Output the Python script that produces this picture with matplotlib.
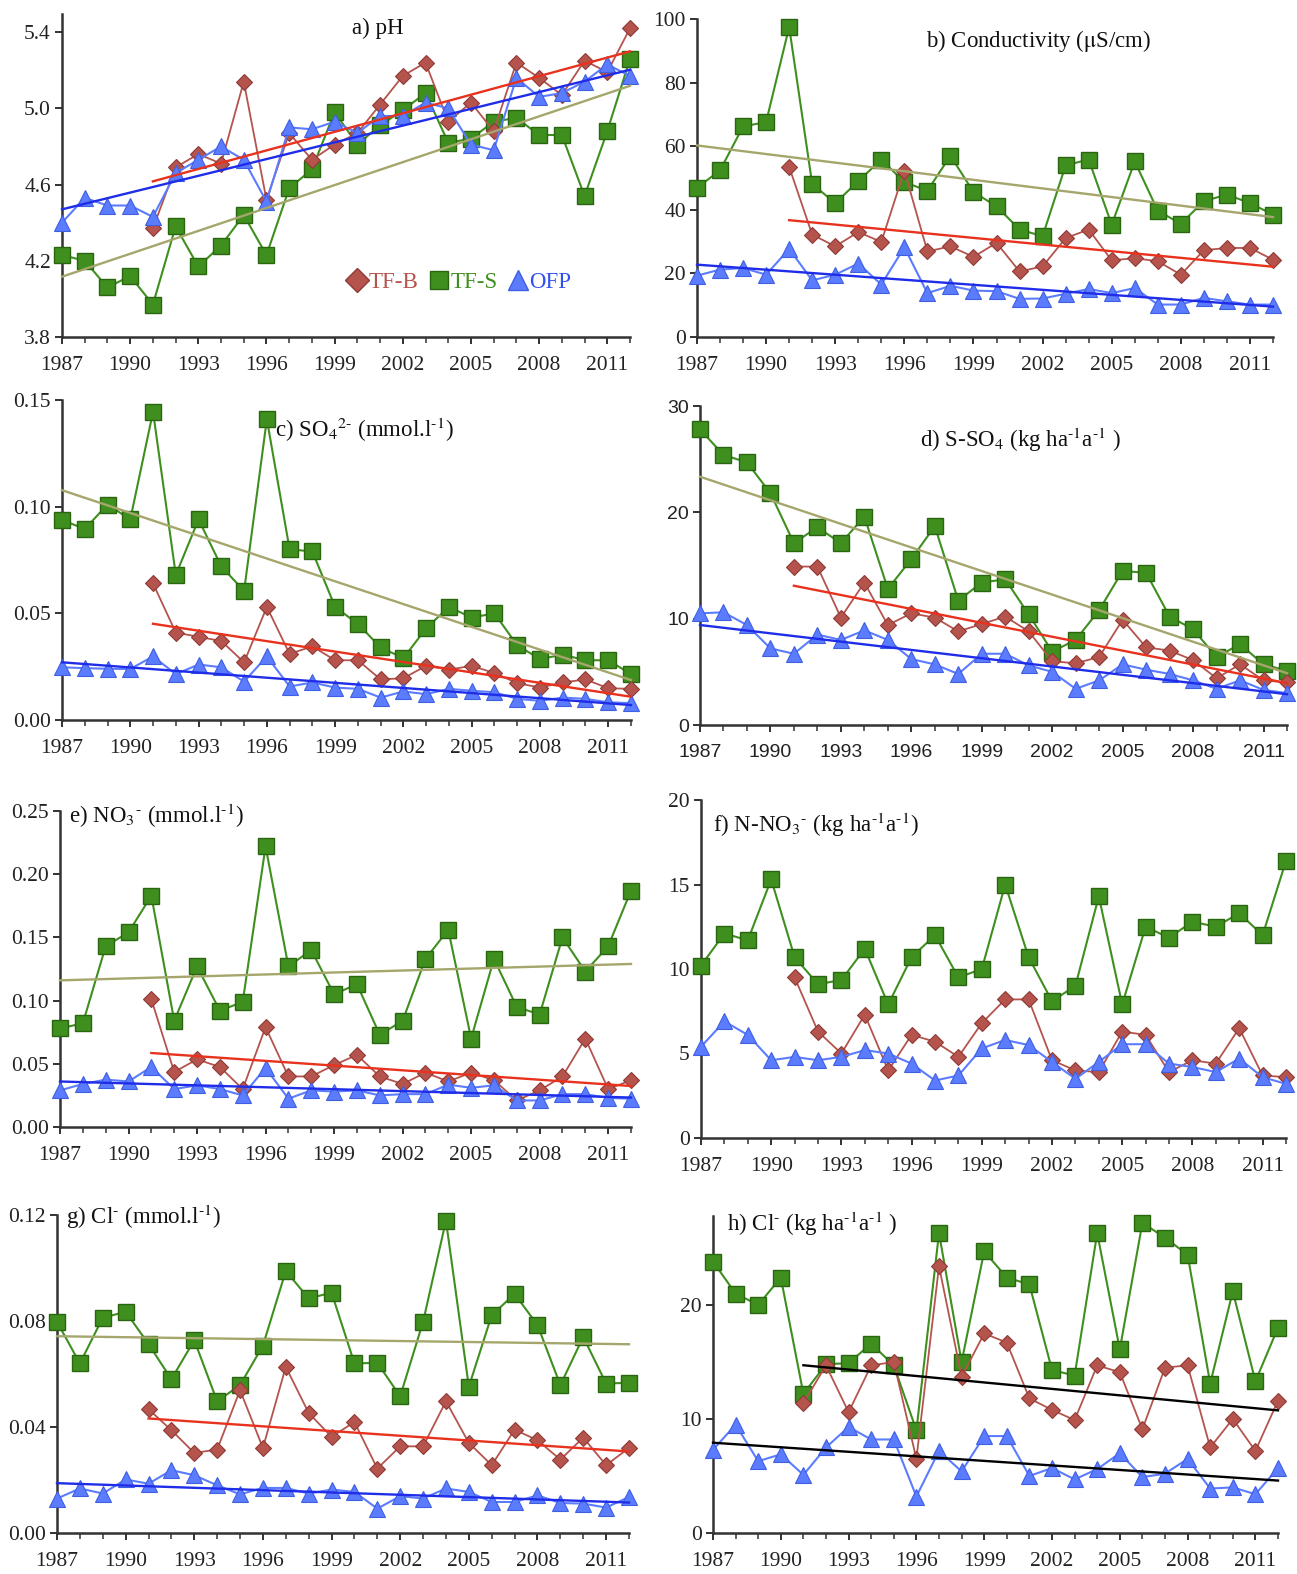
import numpy as np
import matplotlib
matplotlib.use('Agg')
import matplotlib.pyplot as plt
from matplotlib.lines import Line2D
from matplotlib.ticker import FormatStrFormatter

plt.rcParams['font.family'] = ['Liberation Serif', 'DejaVu Serif']
plt.rcParams['mathtext.fontset'] = 'stix'

years = np.arange(1987, 2013)      # TF-S and OFP
years_b = np.arange(1991, 2013)    # TF-B starts in 1991

# a) pH
ph_tfb = [4.37, 4.69, 4.76, 4.71, 5.14, 4.52, 4.87, 4.73, 4.81, 4.87, 5.02, 5.17,
          5.24, 4.93, 5.03, 4.88, 5.24, 5.16, 5.07, 5.25, 5.19, 5.42]
ph_tfs = [4.23, 4.20, 4.06, 4.12, 3.97, 4.38, 4.17, 4.28, 4.44, 4.23, 4.58, 4.68, 4.98,
          4.81, 4.91, 4.99, 5.08, 4.82, 4.84, 4.93, 4.95, 4.86, 4.86, 4.54, 4.88, 5.26]
ph_ofp = [4.40, 4.53, 4.49, 4.49, 4.43, 4.66, 4.73, 4.80, 4.73, 4.51, 4.90, 4.89, 4.93,
          4.87, 4.96, 4.96, 5.03, 5.00, 4.81, 4.78, 5.16, 5.06, 5.08, 5.14, 5.23, 5.17]

# b) conductivity
cond_tfb = [53.5, 32.2, 28.5, 33.0, 29.9, 52.3, 26.9, 28.5, 25.2, 29.6, 20.6, 22.2,
            31.1, 33.8, 24.1, 24.8, 23.8, 19.6, 27.3, 28.0, 28.0, 24.3]
cond_tfs = [46.9, 52.4, 66.2, 67.6, 97.5, 48.1, 42.1, 49.0, 55.8, 48.7, 46.0, 57.0, 45.6,
            41.1, 33.8, 31.7, 54.0, 55.8, 35.3, 55.2, 39.7, 35.6, 42.7, 44.8, 42.1, 38.5]
cond_ofp = [19.3, 21.2, 21.7, 19.6, 27.7, 17.8, 19.6, 23.1, 16.5, 28.2, 13.8, 16.1, 14.6,
            14.4, 12.0, 12.1, 13.6, 15.1, 13.8, 15.4, 10.2, 10.2, 12.3, 11.2, 10.2, 10.2]

# c) SO4 concentration
so4_tfb = [0.064, 0.041, 0.039, 0.037, 0.027, 0.053, 0.031, 0.0345, 0.028, 0.028, 0.019,
           0.0196, 0.0254, 0.0236, 0.0254, 0.022, 0.0173, 0.0152, 0.0176, 0.019, 0.0149, 0.0146]
so4_tfs = [0.0938, 0.0895, 0.101, 0.094, 0.1445, 0.068, 0.094, 0.072, 0.0605, 0.141, 0.080,
           0.079, 0.053, 0.045, 0.034, 0.029, 0.043, 0.053, 0.048, 0.050, 0.035, 0.0286,
           0.0306, 0.028, 0.028, 0.0215]
so4_ofp = [0.0247, 0.0243, 0.024, 0.0239, 0.0298, 0.0215, 0.026, 0.0247, 0.018, 0.0298,
           0.0157, 0.0176, 0.0152, 0.0146, 0.0105, 0.0134, 0.0121, 0.0146, 0.0137, 0.013,
           0.0099, 0.009, 0.0105, 0.0099, 0.0083, 0.0079]

# d) S-SO4 flux
sso4_tfb = [14.9, 14.9, 10.1, 13.4, 9.4, 10.5, 10.1, 8.8, 9.5, 10.2, 8.8, 6.0, 5.8, 6.4,
            9.9, 7.3, 7.0, 6.1, 4.4, 5.7, 4.2, 4.0]
sso4_tfs = [27.8, 25.4, 24.7, 21.8, 17.1, 18.6, 17.1, 19.6, 12.8, 15.6, 18.7, 11.7, 13.4,
            13.7, 10.4, 6.9, 8.0, 10.8, 14.5, 14.3, 10.2, 9.0, 6.4, 7.6, 5.7, 5.1]
sso4_ofp = [10.5, 10.6, 9.4, 7.2, 6.7, 8.5, 8.0, 8.9, 8.0, 6.2, 5.7, 4.8, 6.7, 6.7, 5.6,
            5.0, 3.4, 4.2, 5.7, 5.2, 4.8, 4.2, 3.4, 4.2, 3.3, 3.0]

# e) NO3 concentration
no3_tfb = [0.101, 0.0435, 0.0535, 0.0475, 0.030, 0.079, 0.040, 0.040, 0.049, 0.057, 0.040,
           0.034, 0.043, 0.036, 0.043, 0.037, 0.021, 0.029, 0.040, 0.070, 0.030, 0.037]
no3_tfs = [0.078, 0.082, 0.143, 0.154, 0.183, 0.084, 0.127, 0.092, 0.099, 0.222, 0.127,
           0.140, 0.105, 0.113, 0.073, 0.084, 0.133, 0.156, 0.070, 0.133, 0.095, 0.089,
           0.150, 0.123, 0.143, 0.187]
no3_ofp = [0.029, 0.034, 0.0375, 0.036, 0.0475, 0.030, 0.033, 0.030, 0.025, 0.0467, 0.0224,
           0.029, 0.028, 0.029, 0.025, 0.026, 0.026, 0.0335, 0.031, 0.033, 0.021, 0.021,
           0.026, 0.026, 0.023, 0.0224]

# f) N-NO3 flux
nno3_tfb = [9.5, 6.3, 5.0, 7.3, 4.0, 6.1, 5.7, 4.8, 6.8, 8.2, 8.2, 4.6, 4.0, 3.9, 6.3,
            6.1, 3.9, 4.6, 4.4, 6.5, 3.7, 3.6]
nno3_tfs = [10.2, 12.1, 11.7, 15.3, 10.7, 9.1, 9.35, 11.2, 7.9, 10.7, 12.0, 9.5, 10.0,
            15.0, 10.7, 8.1, 9.0, 14.3, 7.9, 12.5, 11.85, 12.8, 12.5, 13.3, 12.0, 16.4]
nno3_ofp = [5.4, 6.9, 6.1, 4.6, 4.8, 4.6, 4.8, 5.2, 5.0, 4.4, 3.4, 3.7, 5.3, 5.8, 5.5,
            4.5, 3.5, 4.5, 5.55, 5.55, 4.4, 4.2, 3.9, 4.7, 3.6, 3.2]

# g) Cl concentration
cl_tfb = [0.0467, 0.0388, 0.0302, 0.0315, 0.0539, 0.0321, 0.0627, 0.0453, 0.0363, 0.0419,
          0.0243, 0.0327, 0.0327, 0.0497, 0.034, 0.0256, 0.039, 0.035, 0.0277, 0.036,
          0.0256, 0.0321]
cl_tfs = [0.0797, 0.064, 0.0812, 0.0835, 0.0713, 0.058, 0.0728, 0.0497, 0.0558, 0.0707,
          0.0989, 0.0885, 0.0907, 0.064, 0.0642, 0.0516, 0.0797, 0.1179, 0.0552, 0.0822,
          0.0902, 0.0785, 0.0558, 0.074, 0.0564, 0.0567]
cl_ofp = [0.013, 0.0168, 0.0149, 0.0202, 0.0186, 0.0237, 0.0218, 0.018, 0.0146, 0.017,
          0.017, 0.0149, 0.0164, 0.0155, 0.0092, 0.0139, 0.013, 0.0168, 0.0155, 0.0117,
          0.0117, 0.0142, 0.0113, 0.0111, 0.0096, 0.0136]

# h) Cl flux
clf_tfb = [11.4, 14.7, 10.6, 14.7, 15.0, 6.5, 23.4, 13.7, 17.5, 16.7, 11.8, 10.8, 9.9,
           14.7, 14.1, 9.1, 14.5, 14.7, 7.5, 10.0, 7.2, 11.6]
clf_tfs = [23.8, 21.0, 20.0, 22.4, 12.2, 14.8, 14.9, 16.6, 14.7, 9.0, 26.3, 15.0, 24.7,
           22.4, 21.8, 14.3, 13.8, 26.3, 16.1, 27.2, 25.9, 24.4, 13.1, 21.2, 13.3, 18.0]
clf_ofp = [7.3, 9.5, 6.3, 6.9, 5.1, 7.5, 9.3, 8.2, 8.2, 3.2, 7.2, 5.4, 8.5, 8.5, 5.0,
           5.7, 4.7, 5.6, 7.0, 4.9, 5.2, 6.5, 3.9, 4.0, 3.4, 5.7]

TFB_C, TFB_E = '#b5534d', '#8e3a36'
TFS_C, TFS_E = '#3f8f1f', '#2a6510'
OFP_C, OFP_E = '#5b7cff', '#3f5fe0'
TR_TFB, TR_TFS, TR_OFP = '#e8321e', '#a5a66c', '#1f2de8'

W, H = 1297, 1574
fig = plt.figure(figsize=(W / 100, H / 100), dpi=100)


def rect(l, r, t, b):
    return [l / W, 1 - b / H, (r - l) / W, (b - t) / H]


panels = [
    dict(r=rect(62, 630, 14, 337), d=(ph_tfb, ph_tfs, ph_ofp), ylim=(3.8, 5.495),
         yt=[3.8, 4.2, 4.6, 5.0, 5.4], fmt='%.1f', title='a) pH', tx=0.556, ty=0.955,
         ha='center', trend=(TR_TFB, TR_TFS, TR_OFP)),
    dict(r=rect(697, 1273, 19, 337), d=(cond_tfb, cond_tfs, cond_ofp), ylim=(0, 100),
         yt=[0, 20, 40, 60, 80, 100], fmt='%d', title=r'b) Conductivity ($\mathrm{\mu}$S/cm)',
         tx=0.593, ty=0.93, ha='center', trend=(TR_TFB, TR_TFS, TR_OFP)),
    dict(r=rect(62, 631, 400, 720), d=(so4_tfb, so4_tfs, so4_ofp), ylim=(0, 0.15),
         yt=[0, 0.05, 0.10, 0.15], fmt='%.2f',
         title=r'c) SO$_4$$^{2\text{-}}$ (mmol.l$^{\text{-}1}$)', tx=0.375, ty=0.905,
         ha='left', trend=(TR_TFB, TR_TFS, TR_OFP)),
    dict(r=rect(700, 1287, 406, 725), d=(sso4_tfb, sso4_tfs, sso4_ofp), ylim=(0, 30),
         yt=[0, 10, 20, 30], fmt='%d', title=r'd) S-SO$_4$ (kg ha$^{\text{-}1}$a$^{\text{-}1}$ )',
         tx=0.375, ty=0.895, ha='left', trend=(TR_TFB, TR_TFS, TR_OFP), sans=True),
    dict(r=rect(60, 631, 811, 1127), d=(no3_tfb, no3_tfs, no3_ofp), ylim=(0, 0.25),
         yt=[0, 0.05, 0.10, 0.15, 0.20, 0.25], fmt='%.2f',
         title=r'e) NO$_3$$^{\text{-}}$ (mmol.l$^{\text{-}1}$)', tx=0.015, ty=0.985,
         ha='left', trend=(TR_TFB, TR_TFS, TR_OFP)),
    dict(r=rect(701, 1286, 800, 1138), d=(nno3_tfb, nno3_tfs, nno3_ofp), ylim=(0, 20),
         yt=[0, 5, 10, 15, 20], fmt='%d',
         title=r'f) N-NO$_3$$^{\text{-}}$ (kg ha$^{\text{-}1}$a$^{\text{-}1}$)', tx=0.02, ty=0.925,
         ha='left', trend=None),
    dict(r=rect(57, 629, 1215, 1533), d=(cl_tfb, cl_tfs, cl_ofp), ylim=(0, 0.12),
         yt=[0, 0.04, 0.08, 0.12], fmt='%.2f',
         title=r'g) Cl$^{\text{-}}$ (mmol.l$^{\text{-}1}$)', tx=0.015, ty=0.995,
         ha='left', trend=(TR_TFB, TR_TFS, TR_OFP)),
    dict(r=rect(713, 1278, 1216, 1533), d=(clf_tfb, clf_tfs, clf_ofp), ylim=(0, 27.8),
         yt=[0, 10, 20], fmt='%d',
         title=r'h) Cl$^{\text{-}}$ (kg ha$^{\text{-}1}$a$^{\text{-}1}$ )', tx=0.025, ty=0.975,
         ha='left', trend=('black', None, 'black')),
]

for p in panels:
    ax = fig.add_axes(p['r'])
    tfb, tfs, ofp = p['d']
    ax.plot(years, tfs, color=TFS_C, lw=1.5, marker='s', ms=11, mfc=TFS_C, mec=TFS_E,
            mew=1, clip_on=False, zorder=3)
    ax.plot(years_b, tfb, color=TFB_C, lw=1.3, marker='D', ms=8.5, mfc=TFB_C, mec=TFB_E,
            mew=0.8, clip_on=False, zorder=4)
    ax.plot(years, ofp, color=OFP_C, lw=1.5, marker='^', ms=11, mfc=OFP_C, mec=OFP_E,
            mew=0.8, clip_on=False, zorder=5)
    if p['trend']:
        for (xs, ys), c in zip(((years_b, tfb), (years, tfs), (years, ofp)), p['trend']):
            if c is None:
                continue
            k, b0 = np.polyfit(xs, ys, 1)
            ax.plot(xs, k * np.asarray(xs) + b0, color=c, lw=1.7, zorder=6, clip_on=False)

    ax.set_xlim(1987, 2012)
    ax.set_ylim(*p['ylim'])
    ax.set_xticks(np.arange(1987, 2012, 3))
    ax.set_xticks(years, minor=True)
    ax.set_yticks(p['yt'])
    ax.yaxis.set_major_formatter(FormatStrFormatter(p['fmt']))
    for s in ('top', 'right'):
        ax.spines[s].set_visible(False)
    for s in ('left', 'bottom'):
        ax.spines[s].set_linewidth(1.8)
        ax.spines[s].set_color('#333333')
    ax.tick_params(axis='both', which='major', direction='out', length=5, width=1.3,
                   labelsize=15.5, colors='#222222', pad=3)
    ax.tick_params(axis='x', which='minor', direction='out', length=4, width=1.1,
                   colors='#333333')
    ax.tick_params(axis='x', which='major', pad=9)
    if p.get('sans'):
        for lab in ax.get_xticklabels() + ax.get_yticklabels():
            lab.set_fontfamily('Liberation Sans')
            lab.set_fontsize(14)
    ax.set_facecolor('none')
    ax.text(p['tx'], p['ty'], p['title'], transform=ax.transAxes, ha=p['ha'], va='center',
            fontsize=16.5, color='#111111', zorder=10)

    if p['title'] == 'a) pH':
        handles = [Line2D([], [], ls='none', marker='D', ms=12, mfc=TFB_C, mec=TFB_E),
                   Line2D([], [], ls='none', marker='s', ms=13, mfc=TFS_C, mec=TFS_E),
                   Line2D([], [], ls='none', marker='^', ms=14, mfc=OFP_C, mec=OFP_E)]
        leg = ax.legend(handles, ['TF-B', 'TF-S', 'OFP'], loc='center',
                        bbox_to_anchor=(0.70, 0.17), ncol=3, frameon=False,
                        handlelength=0.8, handletextpad=0.1, columnspacing=0.5,
                        fontsize=16.5)
        for t, c in zip(leg.get_texts(), (TFB_C, TFS_C, '#3050f0')):
            t.set_color(c)

fig.savefig('out.png', dpi=100)
